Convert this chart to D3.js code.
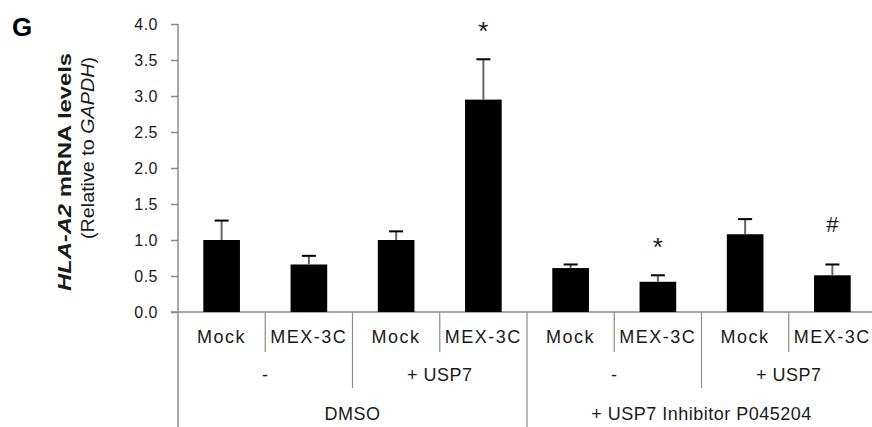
<!DOCTYPE html>
<meta charset="utf-8">
<script src="https://d3js.org/d3.v7.min.js"></script>
<style>
  body { margin: 0; background: #fff; }
  text { font-family: "Liberation Sans", Arial, sans-serif; fill: #1a1a1a; }
</style>
<body>
<div id="my_dataviz"></div>
<script>
// data
var treatments = ["Mock", "MEX-3C", "Mock", "MEX-3C", "Mock", "MEX-3C", "Mock", "MEX-3C"];
var usp7 = ["-", "+ USP7", "-", "+ USP7"];
var drug = ["DMSO", "+ USP7 Inhibitor P045204"];
var means = [1.00, 0.66, 1.00, 2.95, 0.61, 0.42, 1.08, 0.51];
var errs = [0.27, 0.12, 0.12, 0.56, 0.05, 0.09, 0.21, 0.15];
var marks = ["", "", "", "*", "", "*", "", "#"];
var yTicks = [0, 0.5, 1, 1.5, 2, 2.5, 3, 3.5, 4];

var width = 872, height = 427;
var axisColor = "#8a8a8a";

var svg = d3.select("#my_dataviz").append("svg")
  .attr("width", width)
  .attr("height", height);

var x = d3.scaleBand()
  .domain(d3.range(treatments.length))
  .range([178, 876])
  .paddingInner(0.58)
  .paddingOuter(0.29);

var y = d3.scaleLinear().domain([0, 4]).range([312, 24]);

var step = x.step();
function edge(i) { return x(i) - (step - x.bandwidth()) / 2; }

// panel letter
svg.append("text")
  .attr("x", 12).attr("y", 36)
  .style("font-size", "26px").style("font-weight", "bold")
  .style("fill", "#000")
  .text("G");

// y axis title
var t1 = svg.append("text")
  .attr("transform", "translate(71,172) rotate(-90)")
  .attr("text-anchor", "middle")
  .attr("textLength", 238).attr("lengthAdjust", "spacingAndGlyphs")
  .style("font-size", "18px").style("font-weight", "bold");
t1.append("tspan").style("font-style", "italic").text("HLA-A2");
t1.append("tspan").text(" mRNA levels");
var t2 = svg.append("text")
  .attr("transform", "translate(94,148) rotate(-90)")
  .attr("text-anchor", "middle")
  .attr("textLength", 182).attr("lengthAdjust", "spacingAndGlyphs")
  .style("font-size", "18px");
t2.append("tspan").text("(Relative to ");
t2.append("tspan").style("font-style", "italic").text("GAPDH");
t2.append("tspan").text(")");

// y axis
var yAxis = svg.append("g")
  .attr("transform", "translate(178,0)")
  .call(d3.axisLeft(y).tickValues(yTicks).tickFormat(d3.format(".1f")).tickSize(7).tickPadding(13));
yAxis.select(".domain").remove();
yAxis.selectAll(".tick line").attr("stroke", axisColor).attr("stroke-width", 1.5);
yAxis.selectAll(".tick text")
  .style("font-size", "16px").style("font-family", "'Liberation Sans', Arial, sans-serif")
  .style("letter-spacing", "0.5px").attr("fill", "#1a1a1a");

// axis lines
svg.append("line")
  .attr("x1", 178).attr("x2", 178).attr("y1", y(4)).attr("y2", height)
  .attr("stroke", axisColor).attr("stroke-width", 1.5);
svg.append("line")
  .attr("x1", 171).attr("x2", width).attr("y1", y(0)).attr("y2", y(0))
  .attr("stroke", axisColor).attr("stroke-width", 1.5);

// category dividers
var divs = [];
for (var i = 1; i < treatments.length; i++) {
  var depth = (i % 4 === 0) ? height : (i % 2 === 0 ? 388 : 352);
  divs.push({ x: edge(i), y2: depth });
}
svg.selectAll(".div").data(divs).enter().append("line")
  .attr("x1", d => d.x).attr("x2", d => d.x)
  .attr("y1", y(0)).attr("y2", d => d.y2)
  .attr("stroke", axisColor).attr("stroke-width", 1.2);

// bars
svg.selectAll(".bar").data(means).enter().append("rect")
  .attr("x", (d, i) => x(i))
  .attr("width", x.bandwidth())
  .attr("y", d => y(d))
  .attr("height", d => y(0) - y(d))
  .attr("fill", "#000");

// error bars (upper only)
svg.selectAll(".stem").data(means).enter().append("line")
  .attr("x1", (d, i) => x(i) + x.bandwidth() / 2)
  .attr("x2", (d, i) => x(i) + x.bandwidth() / 2)
  .attr("y1", d => y(d))
  .attr("y2", (d, i) => y(d + errs[i]))
  .attr("stroke", "#666").attr("stroke-width", 2);
svg.selectAll(".cap").data(means).enter().append("line")
  .attr("x1", (d, i) => x(i) + x.bandwidth() / 2 - 7)
  .attr("x2", (d, i) => x(i) + x.bandwidth() / 2 + 7)
  .attr("y1", (d, i) => y(d + errs[i]))
  .attr("y2", (d, i) => y(d + errs[i]))
  .attr("stroke", "#000").attr("stroke-width", 2);

// significance marks
svg.selectAll(".mark").data(marks).enter().append("text")
  .attr("x", (d, i) => x(i) + x.bandwidth() / 2)
  .attr("y", (d, i) => y(means[i] + errs[i]) - (d === "#" ? 32 : 19))
  .attr("text-anchor", "middle")
  .style("font-size", d => d === "#" ? "22px" : "26px")
  .text(d => d);

// category labels
svg.selectAll(".lab1").data(treatments).enter().append("text")
  .attr("x", (d, i) => x(i) + x.bandwidth() / 2)
  .attr("y", 343)
  .attr("text-anchor", "middle")
  .style("font-size", "18px").style("letter-spacing", "1.5px")
  .text(d => d);

svg.selectAll(".lab2").data(usp7).enter().append("text")
  .attr("x", (d, i) => edge(i * 2 + 1))
  .attr("y", 381)
  .attr("text-anchor", "middle")
  .style("font-size", "18px").style("letter-spacing", "0.5px")
  .text(d => d);

svg.selectAll(".lab3").data(drug).enter().append("text")
  .attr("x", (d, i) => edge(i * 4 + 2))
  .attr("y", 420)
  .attr("text-anchor", "middle")
  .style("font-size", "18px").style("letter-spacing", "0.5px")
  .text(d => d);
</script>
</body>
